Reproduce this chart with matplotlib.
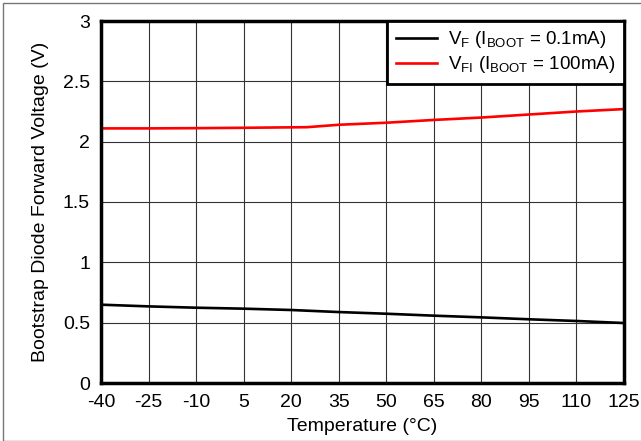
import numpy as np
import matplotlib.pyplot as plt
from matplotlib.patches import Rectangle

plt.rcParams['font.family'] = ['Liberation Sans', 'DejaVu Sans']

temp = [-40, -25, -10, 5, 20, 35, 50, 65, 80, 95, 110, 125]
vf = [0.649, 0.635, 0.624, 0.616, 0.605, 0.588, 0.574, 0.558, 0.544, 0.528, 0.514, 0.497]
temp_fi = [-40, -25, -10, 5, 25, 35, 50, 65, 80, 95, 110, 125]
vfi = [2.11, 2.11, 2.112, 2.115, 2.12, 2.14, 2.157, 2.18, 2.20, 2.225, 2.25, 2.27]
xticks = [-40, -25, -10, 5, 20, 35, 50, 65, 80, 95, 110, 125]
yticks = [0, 0.5, 1, 1.5, 2, 2.5, 3]

fig = plt.figure(figsize=(6.41, 4.41), dpi=100)
ax = fig.add_axes([101/641, 1 - 383/441, 523/641, 362/441])

ax.plot(temp, vf, color='black', lw=1.9, label=r'V$_\mathregular{F}$ (I$_\mathregular{BOOT}$ = 0.1mA)')
ax.plot(temp_fi, vfi, color='#ff0000', lw=1.9, label=r'V$_\mathregular{FI}$ (I$_\mathregular{BOOT}$ = 100mA)')

ax.set_xlim(-40, 125)
ax.set_ylim(0, 3)
ax.set_xticks(xticks)
ax.set_xticklabels([str(t) for t in xticks])
ax.set_yticks(yticks)
ax.set_yticklabels(['0', '0.5', '1', '1.5', '2', '2.5', '3'])
ax.tick_params(length=0, labelsize=14, pad=8)
ax.grid(True, color='#333333', lw=0.8)
for s in ax.spines.values():
    s.set_linewidth(2.5)
ax.set_xlabel('Temperature (°C)', fontsize=14, labelpad=5)
ax.set_ylabel('Bootstrap Diode Forward Voltage (V)', fontsize=14, labelpad=10)

leg = ax.legend(loc='upper right', fontsize=13.5, frameon=True, fancybox=False,
                borderaxespad=0, handlelength=2.2, handletextpad=0.6,
                borderpad=0.45, labelspacing=0.2)
leg.get_frame().set_edgecolor('black')
leg.get_frame().set_linewidth(2)
leg.get_frame().set_alpha(1)

fig.patches.append(Rectangle((3/641, 0), 1, 1 - 3/441, transform=fig.transFigure,
                             fill=False, edgecolor='#777777', lw=1))

fig.savefig('out.png', dpi=100)
